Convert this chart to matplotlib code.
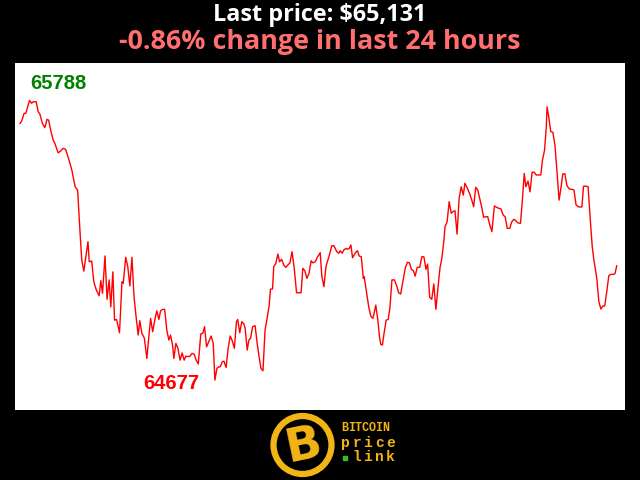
import matplotlib
matplotlib.use('Agg')
import matplotlib.pyplot as plt
from matplotlib.patches import Circle

# minutes since start of the 24h window, and BTC price (USD)
minutes = [0, 4, 10, 14, 23, 28, 32, 39, 44, 48, 54, 60, 65, 69, 75, 80, 84, 92, 98, 104,
           110, 117, 125, 133, 139, 145, 149, 154, 159, 164, 167, 173, 178, 184, 191, 195, 199, 205, 210, 215,
           219, 224, 228, 233, 240, 246, 249, 255, 260, 265, 270, 275, 280, 285, 289, 294, 300, 306, 310, 315,
           320, 325, 330, 335, 339, 344, 349, 354, 359, 363, 368, 371, 376, 381, 386, 391, 396, 400, 405, 410,
           415, 420, 425, 430, 436, 441, 445, 450, 457, 461, 466, 470, 475, 480, 483, 488, 492, 497, 502, 507,
           512, 517, 522, 525, 530, 535, 540, 543, 548, 552, 556, 561, 567, 572, 576, 581, 586, 591, 596, 601,
           604, 609, 612, 617, 622, 626, 631, 636, 641, 646, 651, 656, 661, 667, 678, 682, 687, 692, 697, 702,
           706, 712, 717, 724, 728, 733, 738, 745, 752, 757, 764, 769, 772, 777, 781, 786, 789, 794, 798, 802,
           809, 814, 818, 823, 828, 830, 836, 841, 846, 851, 854, 858, 863, 867, 870, 874, 878, 883, 888, 892,
           897, 903, 909, 913, 918, 924, 929, 934, 939, 944, 949, 953, 958, 964, 969, 974, 979, 983, 988, 993,
           998, 1003, 1009, 1013, 1017, 1022, 1025, 1030, 1035, 1040, 1044, 1049, 1054, 1059, 1064, 1069, 1073, 1079, 1084, 1089,
           1094, 1099, 1104, 1109, 1114, 1118, 1123, 1128, 1133, 1138, 1144, 1149, 1154, 1160, 1165, 1170, 1175, 1181, 1186, 1191,
           1196, 1200, 1207, 1211, 1216, 1220, 1225, 1230, 1235, 1240, 1245, 1250, 1256, 1260, 1265, 1269, 1271, 1275, 1280, 1285,
           1290, 1295, 1300, 1305, 1309, 1314, 1319, 1325, 1331, 1336, 1341, 1347, 1355, 1359, 1364, 1370, 1375, 1380, 1384, 1391,
           1396, 1401, 1405, 1410, 1415, 1420, 1425, 1431, 1435, 1439]
prices = [65697, 65706, 65737, 65737, 65788, 65777, 65783, 65783, 65743, 65734, 65697, 65680, 65713, 65710, 65664, 65631, 65618, 65580, 65587, 65598,
          65594, 65558, 65512, 65445, 65432, 65260, 65154, 65110, 65167, 65227, 65147, 65150, 65068, 65035, 65012, 65072, 65022, 65170, 64998, 65075,
          64968, 65107, 64915, 64918, 64865, 65068, 65061, 65165, 65127, 65051, 65165, 65008, 64929, 64856, 64913, 64863, 64843, 64763, 64836, 64922,
          64869, 64915, 64952, 64918, 64952, 64958, 64958, 64876, 64836, 64856, 64816, 64763, 64823, 64803, 64756, 64785, 64756, 64772, 64770, 64772,
          64783, 64780, 64756, 64741, 64860, 64863, 64889, 64809, 64836, 64852, 64823, 64677, 64724, 64730, 64730, 64750, 64752, 64727, 64803, 64852,
          64833, 64803, 64909, 64918, 64865, 64909, 64900, 64883, 64796, 64836, 64843, 64889, 64893, 64823, 64776, 64724, 64714, 64876, 64922, 64975,
          65038, 65039, 65127, 65141, 65178, 65147, 65157, 65134, 65125, 65134, 65143, 65187, 65127, 65024, 65024, 65121, 65111, 65081, 65101, 65151,
          65143, 65147, 65165, 65183, 65088, 65048, 65130, 65167, 65211, 65211, 65187, 65181, 65191, 65181, 65194, 65200, 65197, 65200, 65214, 65163,
          65183, 65191, 65170, 65167, 65081, 65088, 65022, 64968, 64931, 64922, 64942, 64975, 64915, 64849, 64819, 64816, 64863, 64915, 64918, 64962,
          65075, 65075, 65048, 65024, 65019, 65075, 65121, 65145, 65143, 65117, 65111, 65090, 65125, 65125, 65167, 65167, 65117, 65138, 65006, 64998,
          65059, 64958, 65061, 65125, 65157, 65227, 65286, 65306, 65386, 65340, 65346, 65350, 65257, 65399, 65445, 65412, 65459, 65439, 65419, 65395,
          65366, 65443, 65432, 65395, 65360, 65324, 65326, 65326, 65293, 65267, 65369, 65364, 65360, 65357, 65333, 65326, 65280, 65280, 65306, 65316,
          65310, 65302, 65300, 65381, 65498, 65445, 65468, 65425, 65503, 65503, 65492, 65492, 65492, 65551, 65591, 65677, 65763, 65724, 65664, 65662,
          65611, 65505, 65392, 65445, 65496, 65497, 65449, 65436, 65435, 65432, 65373, 65365, 65365, 65447, 65448, 65445, 65320, 65207, 65154, 65081,
          64988, 64959, 64971, 64971, 65028, 65092, 65097, 65097, 65100, 65131]

last_price = prices[-1]
change_pct = -0.86

fig = plt.figure(figsize=(6.4, 4.8), dpi=100, facecolor='black')

# chart area
ax = fig.add_axes([15/640, 70/480, 610/640, 347/480])
ax.set_facecolor('white')
ax.plot(minutes, prices, color='#ff0000', linewidth=1)
ax.set_xlim(-12, 1459)
ax.set_ylim(64558, 65937)
ax.set_xticks([])
ax.set_yticks([])
for s in ax.spines.values():
    s.set_visible(False)

# high / low labels
i_max = prices.index(max(prices))
i_min = prices.index(min(prices))
ax.annotate(str(max(prices)), (minutes[i_max], prices[i_max]), xytext=(1, 17),
            textcoords='offset pixels', ha='left', va='center',
            color='#008000', fontsize=14.5, fontweight='bold', family='Liberation Sans')
ax.annotate(str(min(prices)), (minutes[i_min], prices[i_min]), xytext=(-44, -3),
            textcoords='offset pixels', ha='center', va='center',
            color='#ff0000', fontsize=14.5, fontweight='bold', family='Liberation Sans')

# titles
fig.text(0.5, 1 - 15/480, f'Last price: ${last_price:,}', color='white', ha='center', va='center',
         fontsize=16.8, fontweight='bold', family='Open Sans')
fig.text(0.5, 1 - 42/480, f'{change_pct:.2f}% change in last 24 hours', color='#ff6f6f',
         ha='center', va='center', fontsize=19.4, fontweight='bold', family='Open Sans')

# logo
lg = fig.add_axes([0, 0, 1, 1], zorder=-1)
lg.set_xlim(0, 640)
lg.set_ylim(480, 0)
lg.axis('off')
gold = '#f2b516'
lg.add_patch(Circle((302.5, 445), 29, facecolor='black', edgecolor=gold, linewidth=4.5))
lg.text(304, 446, 'B', color=gold, fontsize=34, fontweight='bold', ha='center', va='center',
        rotation=12, family='DejaVu Sans')
for i, ch in enumerate('BITCOIN'):
    lg.text(341 + i * 6.9, 428, ch, color=gold, fontsize=8.5, fontweight='bold',
            ha='left', va='center', family='Liberation Mono')
for i, ch in enumerate('price'):
    lg.text(341 + i * 11.3, 443, ch, color=gold, fontsize=10.5, fontweight='bold',
            ha='left', va='center', family='Liberation Mono')
for i, ch in enumerate('link'):
    lg.text(352 + i * 11.3, 457, ch, color=gold, fontsize=10.5, fontweight='bold',
            ha='left', va='center', family='Liberation Mono')
lg.plot([345], [457.5], marker='s', markersize=2.5, color='#2fbf2f')

fig.savefig('out.png', dpi=100, facecolor='black')
